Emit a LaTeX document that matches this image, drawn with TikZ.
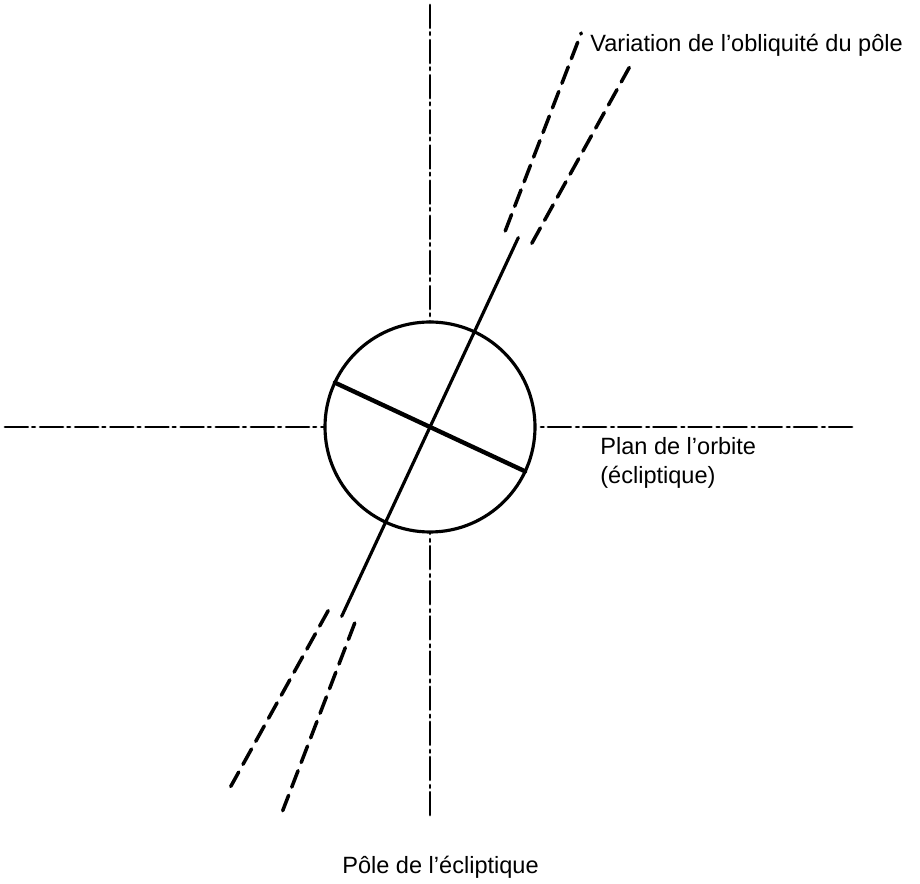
\documentclass[tikz,border=0pt]{standalone}
\usepackage{fontspec}
\setmainfont{Liberation Sans}
\usepackage{tkz-euclide}

\begin{document}
\begin{tikzpicture}[axe/.style={color=black,line width=1.6pt,dash pattern=on 13pt off 2.5pt on 1.5pt off 3pt},
		trait/.style={color=black,line width=1.8pt},
		tirets/.style={color=black,line width=2pt,line cap=round,dash pattern=on 10pt off 5pt},
		legende/.style={font=\fontsize{13.4}{16.5}\selectfont,inner sep=0pt}]
	\useasboundingbox (-8.6,-9.14) rectangle (9.8,8.54);
		\tkzDefPoints{0/0/O,2.1/0/R,4.18/0/A,4.2/0/B,8.22/0/C,8.44/0/D}
		\tkzDefPoints{-8.5/0/H1,-2.1/0/H2,2.2/0/H3,8.44/0/H4,0/8.44/V1,0/2.1/V2,0/-2.12/V3,0/-7.76/V4}
	%	\tkzDrawPoints[color=black,size=2pt](O,R,A,B,C,D)
	% axes du plan et du pole de l'ecliptique
		\tkzDrawSegment[axe](H1,H2)
		\tkzDrawSegment[axe](H4,H3)
		\tkzDrawSegment[axe](V1,V2)
		\tkzDrawSegment[axe](V4,V3)
	% axe de rotation
		\tkzDefPointBy[rotation=center O angle 65](A)
		\tkzGetPoint{P}
		\tkzDefPointBy[rotation=center O angle 245](A)
		\tkzGetPoint{Q}
		\tkzDrawSegment[trait](Q,P)
	% equateur
		\tkzDefPointBy[rotation=center O angle 155](R)
		\tkzGetPoint{E}
		\tkzDefPointBy[rotation=center O angle -25](R)
		\tkzGetPoint{F}
		\tkzDrawSegment[trait,line width=2.5pt](E,F)
		\tkzDrawCircle[trait](O,R)
	% variation de l'obliquite
		\tkzDefPointBy[rotation=center O angle 69](B)
		\tkzGetPoint{B1}
		\tkzDefPointBy[rotation=center O angle 69](D)
		\tkzGetPoint{C1}
		\tkzDrawSegment[tirets](B1,C1)
		\tkzDefPointBy[rotation=center O angle 61](B)
		\tkzGetPoint{B2}
		\tkzDefPointBy[rotation=center O angle 61](C)
		\tkzGetPoint{C2}
		\tkzDrawSegment[tirets](B2,C2)
		\tkzDefPointBy[rotation=center O angle 241](B)
		\tkzGetPoint{B3}
		\tkzDefPointBy[rotation=center O angle 241](C)
		\tkzGetPoint{C3}
		\tkzDrawSegment[tirets](B3,C3)
		\tkzDefPointBy[rotation=center O angle 249](B)
		\tkzGetPoint{B4}
		\tkzDefPointBy[rotation=center O angle 249](C)
		\tkzGetPoint{C4}
		\tkzDrawSegment[tirets](B4,C4)
	%	\tkzDrawPoints[color=black,size=2pt](P,Q,E,F,B1,C1,B2,C2,B3,C3,B4,C4)
	% legendes
	\node[legende,anchor=base west] (variation) at (3.2,7.5) {Variation de l’obliquité du pôle};
	\node[legende,anchor=north west,align=left] (plan) at (3.4,-0.2) {Plan de l’orbite\\(écliptique)};
	\node[legende,anchor=base west] (pole) at (-1.76,-8.92) {Pôle de l’écliptique};
	\end{tikzpicture}
\end{document}
